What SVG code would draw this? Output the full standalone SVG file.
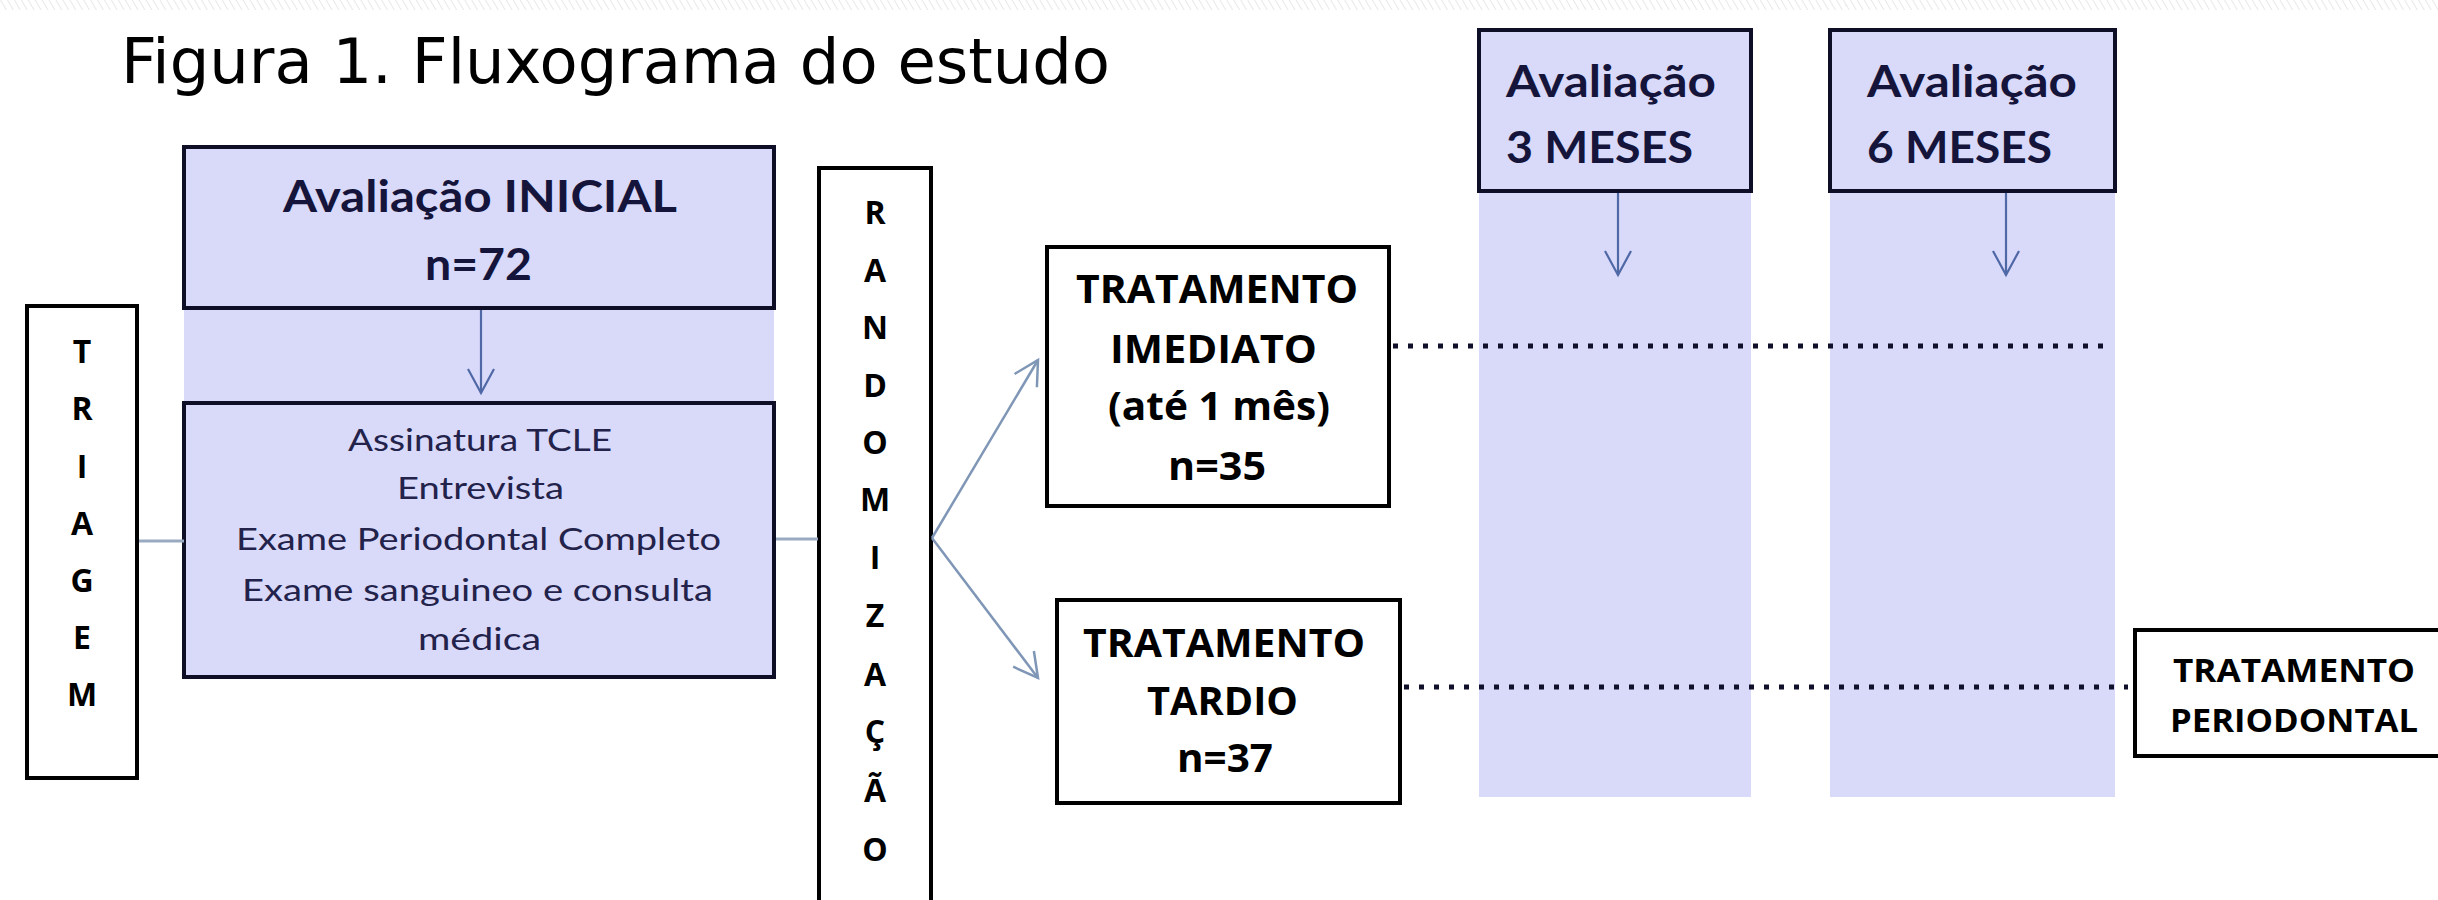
<svg xmlns="http://www.w3.org/2000/svg" width="2438" height="900" viewBox="0 0 2438 900">
<defs>
<style>
.lav{fill:#d9d9fa;}
.box{fill:none;stroke:#0e0e26;stroke-width:4;}
.wbox{fill:#ffffff;stroke:#000000;stroke-width:4;}
.t-title{font-family:"DejaVu Sans","Open Sans",sans-serif;font-size:63px;fill:#000;}
.t-lavb{font-family:Lato,"Open Sans",sans-serif;font-weight:bold;font-size:44px;fill:#15153c;}
.t-lav{font-family:Lato,"Open Sans",sans-serif;font-size:31px;fill:#22224a;}
.t-wb{font-family:"Open Sans","DejaVu Sans",sans-serif;font-weight:bold;font-size:40px;fill:#000;}
.t-vert{font-family:"Open Sans","DejaVu Sans",sans-serif;font-weight:bold;font-size:32px;fill:#000;text-anchor:middle;}
.t-per{font-family:"Open Sans","DejaVu Sans",sans-serif;font-weight:bold;font-size:33px;fill:#000;}
.c-flat{stroke:#9aaac0;stroke-width:3;fill:none;}
.c-blue{stroke:#4f68a6;stroke-width:2.2;fill:none;}
.c-grey{stroke:#7f96b6;stroke-width:2.5;fill:none;}
.c-dot{stroke:#10102a;stroke-width:5;stroke-dasharray:5 10;fill:none;}
</style>
<pattern id="hatch" width="6" height="12" patternUnits="userSpaceOnUse" patternTransform="rotate(-30)">
<line x1="0" y1="0" x2="0" y2="12" stroke="#dcdcdc" stroke-width="1.3"/>
</pattern>
<marker id="arrBlue" markerUnits="userSpaceOnUse" viewBox="-30 -18 34 36" refX="0" refY="0" markerWidth="34" markerHeight="36" orient="auto">
<path d="M-24,-13 L0,0 L-24,13" fill="none" stroke="#4f68a6" stroke-width="2.2"/>
</marker>
<marker id="arrGrey" markerUnits="userSpaceOnUse" viewBox="-30 -18 34 36" refX="0" refY="0" markerWidth="34" markerHeight="36" orient="auto">
<path d="M-24,-13 L0,0 L-24,13" fill="none" stroke="#7f96b6" stroke-width="2.5"/>
</marker>
</defs>

<rect x="0" y="0" width="2438" height="900" fill="#ffffff"/>
<rect id="top-strip" x="0" y="0" width="2438" height="10" fill="url(#hatch)"/>

<g id="title">
<text class="t-title" x="121" y="83" textLength="989" lengthAdjust="spacingAndGlyphs">Figura 1. Fluxograma do estudo</text>
</g>

<g id="node-inicial">
<rect class="lav" x="184" y="147" width="590" height="530"/>
<rect class="box" x="184" y="147" width="590" height="161"/>
<text class="t-lavb" x="283" y="212" textLength="394" lengthAdjust="spacingAndGlyphs">Avaliação INICIAL</text>
<text class="t-lavb" x="425" y="280" textLength="107" lengthAdjust="spacingAndGlyphs">n=72</text>
</g>

<g id="node-procedimentos">
<rect class="box" x="184" y="403" width="590" height="274"/>
<text class="t-lav" x="348" y="451" textLength="264" lengthAdjust="spacingAndGlyphs">Assinatura TCLE</text>
<text class="t-lav" x="397" y="499" textLength="167" lengthAdjust="spacingAndGlyphs">Entrevista</text>
<text class="t-lav" x="236" y="550" textLength="485" lengthAdjust="spacingAndGlyphs">Exame Periodontal Completo</text>
<text class="t-lav" x="242" y="601" textLength="471" lengthAdjust="spacingAndGlyphs">Exame sanguineo e consulta</text>
<text class="t-lav" x="418" y="650" textLength="123" lengthAdjust="spacingAndGlyphs">médica</text>
</g>

<g id="node-triagem">
<rect class="wbox" x="27" y="306" width="110" height="472"/>
<text class="t-vert" x="82" y="363">T</text>
<text class="t-vert" x="82" y="420">R</text>
<text class="t-vert" x="82" y="478">I</text>
<text class="t-vert" x="82" y="535">A</text>
<text class="t-vert" x="82" y="592">G</text>
<text class="t-vert" x="82" y="649">E</text>
<text class="t-vert" x="82" y="706">M</text>
</g>

<g id="node-randomizacao">
<rect class="wbox" x="819" y="168" width="112" height="760"/>
<text class="t-vert" x="875" y="224" font-size="30">R</text>
<text class="t-vert" x="875" y="282" font-size="30">A</text>
<text class="t-vert" x="875" y="339" font-size="30">N</text>
<text class="t-vert" x="875" y="397" font-size="30">D</text>
<text class="t-vert" x="875" y="454" font-size="30">O</text>
<text class="t-vert" x="875" y="511" font-size="30">M</text>
<text class="t-vert" x="875" y="569" font-size="30">I</text>
<text class="t-vert" x="875" y="627" font-size="30">Z</text>
<text class="t-vert" x="875" y="686" font-size="30">A</text>
<text class="t-vert" x="875" y="743" font-size="30">Ç</text>
<text class="t-vert" x="875" y="802" font-size="30">Ã</text>
<text class="t-vert" x="875" y="861" font-size="30">O</text>
</g>

<g id="node-imediato">
<rect class="wbox" x="1047" y="247" width="342" height="259"/>
<text class="t-wb" x="1076" y="303" textLength="282" lengthAdjust="spacingAndGlyphs">TRATAMENTO</text>
<text class="t-wb" x="1110" y="363" textLength="207" lengthAdjust="spacingAndGlyphs">IMEDIATO</text>
<text class="t-wb" x="1108" y="420" textLength="222" lengthAdjust="spacingAndGlyphs">(até 1 mês)</text>
<text class="t-wb" x="1168" y="480" textLength="98" lengthAdjust="spacingAndGlyphs">n=35</text>
</g>

<g id="node-tardio">
<rect class="wbox" x="1057" y="600" width="343" height="203"/>
<text class="t-wb" x="1083" y="657" textLength="282" lengthAdjust="spacingAndGlyphs">TRATAMENTO</text>
<text class="t-wb" x="1147" y="715" textLength="151" lengthAdjust="spacingAndGlyphs">TARDIO</text>
<text class="t-wb" x="1177" y="772" textLength="96" lengthAdjust="spacingAndGlyphs">n=37</text>
</g>

<g id="node-aval3">
<rect class="lav" x="1479" y="30" width="272" height="767"/>
<rect class="box" x="1479" y="30" width="272" height="161"/>
<text class="t-lavb" x="1506" y="97" textLength="210" lengthAdjust="spacingAndGlyphs">Avaliação</text>
<text class="t-lavb" x="1506" y="163" textLength="187" lengthAdjust="spacingAndGlyphs">3 MESES</text>
</g>

<g id="node-aval6">
<rect class="lav" x="1830" y="30" width="285" height="767"/>
<rect class="box" x="1830" y="30" width="285" height="161"/>
<text class="t-lavb" x="1867" y="97" textLength="210" lengthAdjust="spacingAndGlyphs">Avaliação</text>
<text class="t-lavb" x="1867" y="163" textLength="185" lengthAdjust="spacingAndGlyphs">6 MESES</text>
</g>

<g id="node-periodontal">
<rect class="wbox" x="2135" y="630" width="330" height="126"/>
<text class="t-per" x="2173" y="682" textLength="242" lengthAdjust="spacingAndGlyphs">TRATAMENTO</text>
<text class="t-per" x="2170" y="732" textLength="248" lengthAdjust="spacingAndGlyphs">PERIODONTAL</text>
</g>

<g id="connectors">
<line class="c-flat" x1="139" y1="541" x2="184" y2="541"/>
<line class="c-flat" x1="776" y1="539" x2="818" y2="539"/>
<line class="c-blue" x1="481" y1="310" x2="481" y2="393" marker-end="url(#arrBlue)"/>
<line class="c-grey" x1="932" y1="538" x2="1038" y2="360" marker-end="url(#arrGrey)"/>
<line class="c-grey" x1="932" y1="538" x2="1038" y2="678" marker-end="url(#arrGrey)"/>
<line class="c-blue" x1="1618" y1="193" x2="1618" y2="275" marker-end="url(#arrBlue)"/>
<line class="c-blue" x1="2006" y1="193" x2="2006" y2="275" marker-end="url(#arrBlue)"/>
<line class="c-dot" x1="1393" y1="346" x2="2110" y2="346"/>
<line class="c-dot" x1="1404" y1="687" x2="2128" y2="687"/>
</g>
</svg>
